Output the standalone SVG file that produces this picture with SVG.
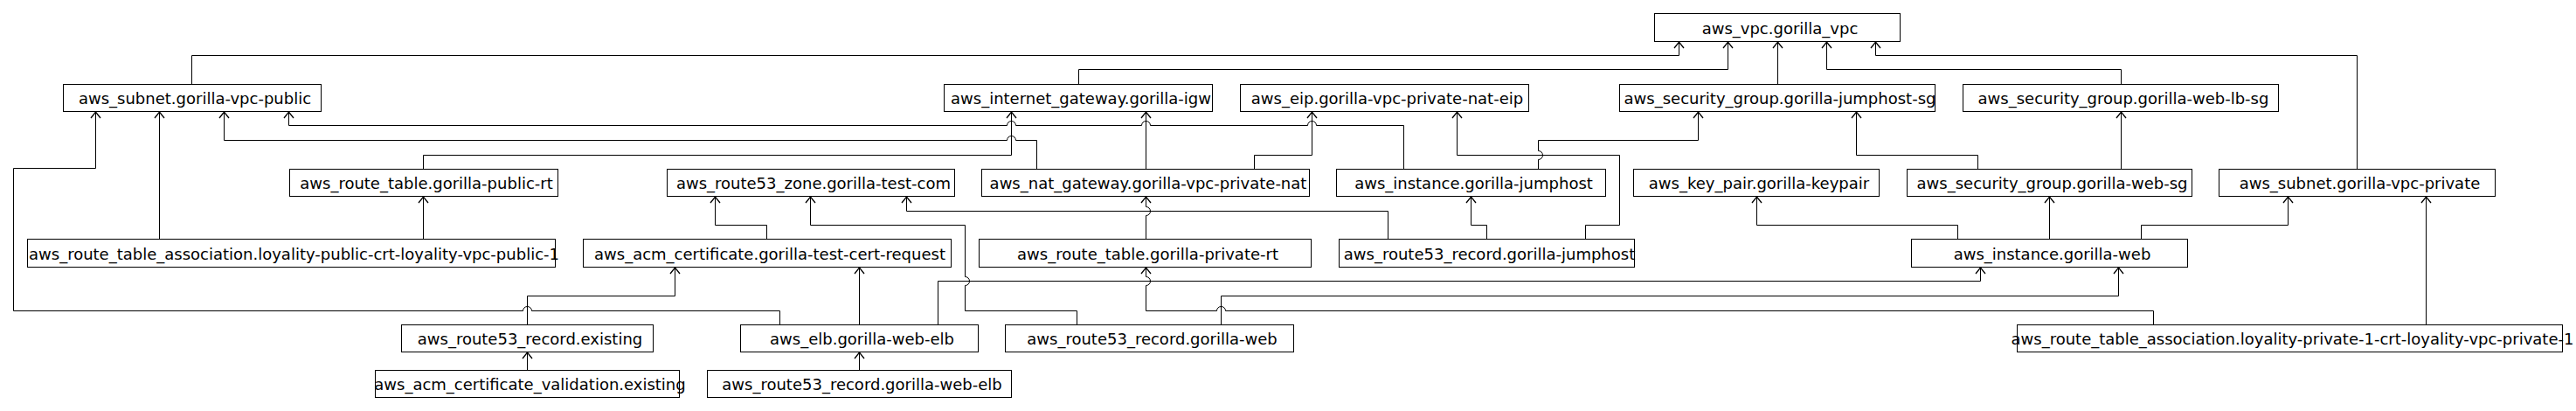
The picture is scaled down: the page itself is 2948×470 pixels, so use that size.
<svg xmlns="http://www.w3.org/2000/svg" width="2948" height="470" viewBox="0 0 2948 470">
<style>
.n rect{fill:#fff;stroke:#000;stroke-width:1}
.n text{font-family:"DejaVu Sans",sans-serif;font-size:18px;text-anchor:middle;fill:#000}
.e path{fill:none;stroke:#000;stroke-width:1;marker-end:url(#arr)}
</style>
<defs>
<marker id="arr" markerUnits="userSpaceOnUse" markerWidth="20" markerHeight="20" viewBox="0 0 20 20" refX="10" refY="10" orient="auto" overflow="visible">
<path d="M3,4.5 L10,10 L3,15.5" fill="none" stroke="#000" stroke-width="1.3"/>
</marker>
</defs>
<rect x="0" y="0" width="2948" height="470" fill="#fff"/>
<g id="connectors" class="e">
<path d="M219.5,96.5 V63.5 H1921.5 V48"/>
<path d="M1234.5,96.5 V79.5 H1977.5 V48"/>
<path d="M2034.5,96.5 V48"/>
<path d="M2427.5,96.5 V79.5 H2090.5 V48"/>
<path d="M2697.5,193.5 V63.5 H2146.5 V48"/>
<path d="M182.5,273.5 V128"/>
<path d="M484.5,273.5 V225"/>
<path d="M892.5,371.5 V355.5 H608.5 A5 5 0 0 0 598.5,355.5 H15.5 V192.5 H109.5 V128"/>
<path d="M1186.5,193.5 V160.5 H1162.5 A5 5 0 0 0 1152.5,160.5 H256.5 V128"/>
<path d="M1606.5,193.5 V143.5 H1506.5 A5 5 0 0 0 1496.5,143.5 H1316.5 A5 5 0 0 0 1306.5,143.5 H1162.5 A5 5 0 0 0 1152.5,143.5 H330.5 V128"/>
<path d="M484.5,193.5 V177.5 H1157.5 V128"/>
<path d="M1311.5,193.5 V128"/>
<path d="M1435.5,193.5 V177.5 H1501.5 V128"/>
<path d="M1814.5,273.5 V257.5 H1853.5 V177.5 H1667.5 V128"/>
<path d="M1760.5,193.5 V182.5 A5 5 0 0 0 1760.5,172.5 V160.5 H1943.5 V128"/>
<path d="M2263.5,193.5 V177.5 H2124.5 V128"/>
<path d="M2427.5,193.5 V128"/>
<path d="M1588.5,273.5 V241.5 H1037.5 V225"/>
<path d="M1311.5,273.5 V246.5 A5 5 0 0 0 1311.5,236.5 V225"/>
<path d="M1701.5,273.5 V257.5 H1683.5 V225"/>
<path d="M877.5,273.5 V257.5 H818.5 V225"/>
<path d="M1232.5,371.5 V355.5 H1104.5 V326.5 A5 5 0 0 0 1104.5,316.5 V257.5 H927.5 V225"/>
<path d="M2240.5,273.5 V257.5 H2010.5 V225"/>
<path d="M2345.5,273.5 V225"/>
<path d="M2450.5,273.5 V257.5 H2618.5 V225"/>
<path d="M2776.5,371.5 V225"/>
<path d="M1073.5,371.5 V321.5 H2266.5 V306"/>
<path d="M1397.5,371.5 V338.5 H2424.5 V306"/>
<path d="M2464.5,371.5 V355.5 H1402.5 A5 5 0 0 0 1392.5,355.5 H1311.5 V326.5 A5 5 0 0 0 1311.5,316.5 V306"/>
<path d="M603.5,371.5 V338.5 H772.5 V306"/>
<path d="M983.5,371.5 V306"/>
<path d="M603.5,423.5 V403"/>
<path d="M983.5,423.5 V403"/>
</g>
<g id="aws_vpc" class="n"><rect x="1893.5" y="15.5" width="281" height="32"/><text x="2037" y="39">aws_vpc.gorilla_vpc</text></g>
<g id="subnet_public" class="n"><rect x="72.5" y="96.5" width="295" height="31"/><text x="223" y="119">aws_subnet.gorilla-vpc-public</text></g>
<g id="igw" class="n"><rect x="1080.5" y="96.5" width="307" height="31"/><text x="1237" y="119">aws_internet_gateway.gorilla-igw</text></g>
<g id="eip" class="n"><rect x="1419.5" y="96.5" width="330" height="31"/><text x="1587.5" y="119">aws_eip.gorilla-vpc-private-nat-eip</text></g>
<g id="jumphost_sg" class="n"><rect x="1853.5" y="96.5" width="361" height="31"/><text x="2037" y="119">aws_security_group.gorilla-jumphost-sg</text></g>
<g id="web_lb_sg" class="n"><rect x="2246.5" y="96.5" width="361" height="31"/><text x="2430" y="119">aws_security_group.gorilla-web-lb-sg</text></g>
<g id="public_rt" class="n"><rect x="331.5" y="193.5" width="307" height="31"/><text x="488" y="216">aws_route_table.gorilla-public-rt</text></g>
<g id="zone" class="n"><rect x="763.5" y="193.5" width="329" height="31"/><text x="931" y="216">aws_route53_zone.gorilla-test-com</text></g>
<g id="nat" class="n"><rect x="1123.5" y="193.5" width="375" height="31"/><text x="1314" y="216">aws_nat_gateway.gorilla-vpc-private-nat</text></g>
<g id="jumphost" class="n"><rect x="1529.5" y="193.5" width="308" height="31"/><text x="1686.5" y="216">aws_instance.gorilla-jumphost</text></g>
<g id="keypair" class="n"><rect x="1869.5" y="193.5" width="281" height="31"/><text x="2013" y="216">aws_key_pair.gorilla-keypair</text></g>
<g id="web_sg" class="n"><rect x="2182.5" y="193.5" width="326" height="31"/><text x="2348.5" y="216">aws_security_group.gorilla-web-sg</text></g>
<g id="subnet_private" class="n"><rect x="2539.5" y="193.5" width="316" height="31"/><text x="2700.5" y="216">aws_subnet.gorilla-vpc-private</text></g>
<g id="rta_public" class="n"><rect x="31.5" y="273.5" width="604" height="32"/><text x="336.5" y="296.5">aws_route_table_association.loyality-public-crt-loyality-vpc-public-1</text></g>
<g id="acm" class="n"><rect x="667.5" y="273.5" width="421" height="32"/><text x="881" y="296.5">aws_acm_certificate.gorilla-test-cert-request</text></g>
<g id="private_rt" class="n"><rect x="1120.5" y="273.5" width="380" height="32"/><text x="1313.5" y="296.5">aws_route_table.gorilla-private-rt</text></g>
<g id="r53_jumphost" class="n"><rect x="1532.5" y="273.5" width="338" height="32"/><text x="1704.5" y="296.5">aws_route53_record.gorilla-jumphost</text></g>
<g id="web" class="n"><rect x="2187.5" y="273.5" width="316" height="32"/><text x="2348.5" y="296.5">aws_instance.gorilla-web</text></g>
<g id="r53_existing" class="n"><rect x="459.5" y="371.5" width="288" height="31"/><text x="606.5" y="394">aws_route53_record.existing</text></g>
<g id="elb" class="n"><rect x="847.5" y="371.5" width="272" height="31"/><text x="986.5" y="394">aws_elb.gorilla-web-elb</text></g>
<g id="r53_web" class="n"><rect x="1150.5" y="371.5" width="330" height="31"/><text x="1318.5" y="394">aws_route53_record.gorilla-web</text></g>
<g id="rta_private" class="n"><rect x="2308.5" y="371.5" width="624" height="31"/><text x="2623.5" y="394">aws_route_table_association.loyality-private-1-crt-loyality-vpc-private-1</text></g>
<g id="acm_validation" class="n"><rect x="429.5" y="423.5" width="348" height="31"/><text x="606.5" y="446">aws_acm_certificate_validation.existing</text></g>
<g id="r53_web_elb" class="n"><rect x="809.5" y="423.5" width="348" height="31"/><text x="986.5" y="446">aws_route53_record.gorilla-web-elb</text></g>
</svg>
